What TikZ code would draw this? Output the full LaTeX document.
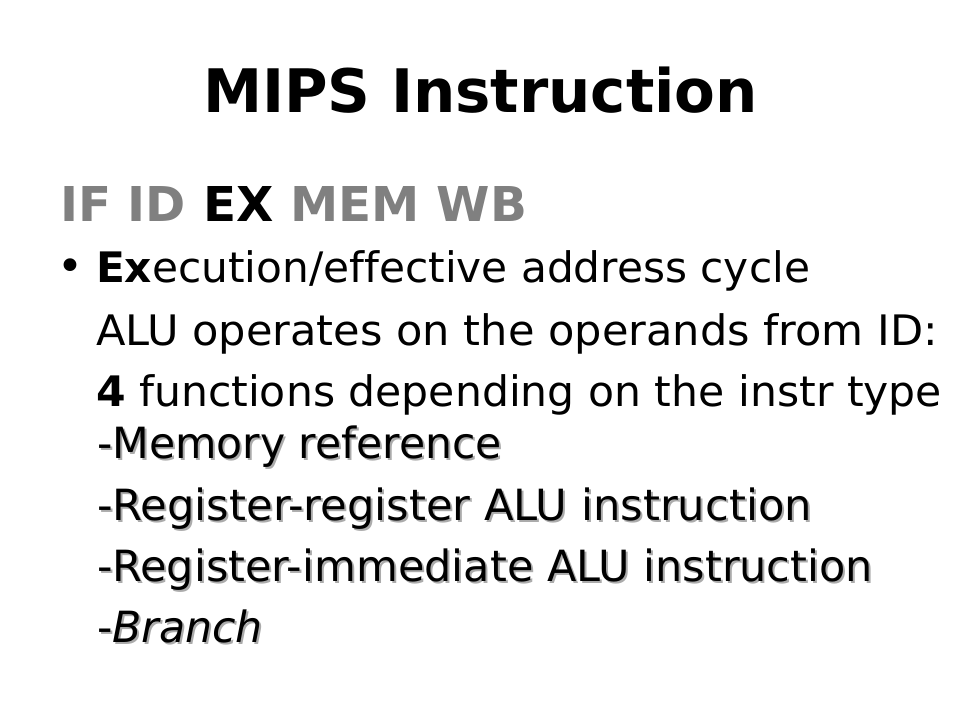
\documentclass[tikz,border=0pt]{standalone}
\usepackage{fontspec}
\setmainfont{DejaVu Sans}[Ligatures=NoCommon]
\usepackage{graphicx}
\definecolor{stagegray}{HTML}{808080}
\definecolor{shadowgray}{HTML}{ABABAB}
\newsavebox\fitbox
\newcommand\fitw[2]{\sbox\fitbox{#2}\pgfmathsetmacro\fitfac{#1/\the\wd\fitbox}\scalebox{\fitfac}[1]{\usebox\fitbox}}
\newcommand\shadowed[2]{\rlap{\hspace{2pt}\raisebox{-2pt}{\textcolor{shadowgray}{\fitw{#1}{#2}}}}\fitw{#1}{#2}}
\tikzset{
  txt/.style={anchor=base west, inner sep=0pt, outer sep=0pt},
  titletxt/.style={anchor=base, inner sep=0pt, outer sep=0pt, font=\fontsize{60}{60}\selectfont\bfseries},
  stagetxt/.style={txt, font=\fontsize{48}{48}\selectfont\bfseries},
  bodytxt/.style={txt, font=\fontsize{42}{42}\selectfont},
  subtxt/.style={txt, font=\fontsize{43}{43}\selectfont},
}
\begin{document}
\begin{tikzpicture}[x=1pt,y=-1pt]
\useasboundingbox[fill=white] (0,0) rectangle (960,720);
% title
\node[titletxt] (title) at (480.5,112) {\fitw{555}{MIPS Instruction}};
% stages
\node[stagetxt] (stages) at (60,221) {\fitw{467}{\textcolor{stagegray}{IF ID} EX \textcolor{stagegray}{MEM WB}}};
% bullet
\node[inner sep=0pt, font=\fontsize{44}{44}\selectfont] (bullet) at (70,270) {•};
\node[bodytxt] (exec) at (96,282) {\fitw{714}{\textbf{Ex}ecution/effective address cycle}};
\node[bodytxt] (alu) at (96,345) {\fitw{842}{ALU operates on the operands from ID:}};
\node[bodytxt] (four) at (96,406) {\fitw{846}{\textbf{4} functions depending on the instr type}};
% sub items with drop shadow
\node[subtxt] (mem) at (97,458) {\shadowed{405}{-Memory reference}};
\node[subtxt] (rr) at (97,520) {\shadowed{715}{-Register-register ALU instruction}};
\node[subtxt] (ri) at (97,581) {\shadowed{776}{-Register-immediate ALU instruction}};
\node[subtxt] (br) at (97,642) {\shadowed{166}{-\textit{Branch}}};
\end{tikzpicture}
\end{document}
